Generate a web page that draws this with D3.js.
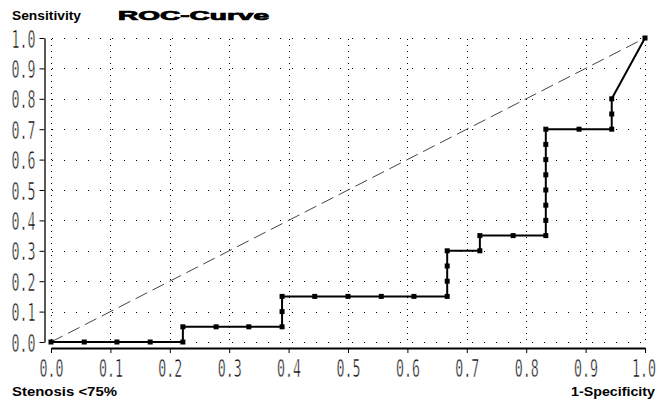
<!DOCTYPE html>
<html>
<head>
<meta charset="utf-8">
<script src="https://cdn.jsdelivr.net/npm/d3@7"></script>
<style>
  html, body { margin: 0; padding: 0; background: #fff; }
  svg { display: block; }
</style>
</head>
<body>
<svg id="chart" width="657" height="402"></svg>
<script>
// ROC points (1-specificity, sensitivity)
const fpr = [0, 0.056, 0.111, 0.167, 0.222, 0.222, 0.278, 0.333, 0.389, 0.389,
             0.389, 0.444, 0.5, 0.556, 0.611, 0.667, 0.667, 0.667, 0.667, 0.722,
             0.722, 0.778, 0.833, 0.833, 0.833, 0.833, 0.833, 0.833, 0.833, 0.833,
             0.889, 0.944, 0.944, 0.944, 1.0];
const tpr = [0, 0, 0, 0, 0, 0.05, 0.05, 0.05, 0.05, 0.1,
             0.15, 0.15, 0.15, 0.15, 0.15, 0.15, 0.2, 0.25, 0.3, 0.3,
             0.35, 0.35, 0.35, 0.4, 0.45, 0.5, 0.55, 0.6, 0.65, 0.7,
             0.7, 0.7, 0.75, 0.8, 1.0];
const ticks = [0, 0.1, 0.2, 0.3, 0.4, 0.5, 0.6, 0.7, 0.8, 0.9, 1.0];

const svg = d3.select("#chart");
const x = d3.scaleLinear().domain([0, 1]).range([51, 645]);
const y = d3.scaleLinear().domain([0, 1]).range([342, 38]);

// dotted grid
const grid = svg.append("g").attr("shape-rendering", "crispEdges");
grid.selectAll("line.h").data(ticks).join("line")
  .attr("class", "h")
  .attr("x1", x(0) + 0.5).attr("x2", x(1) + 0.5)
  .attr("y1", d => Math.round(y(d)) + 0.5).attr("y2", d => Math.round(y(d)) + 0.5)
  .attr("stroke", "#000").attr("stroke-dasharray", "1,11");
grid.selectAll("line.v").data(ticks).join("line")
  .attr("class", "v")
  .attr("x1", d => Math.round(x(d)) + 0.5).attr("x2", d => Math.round(x(d)) + 0.5)
  .attr("y1", y(1) + 0.5).attr("y2", y(0) + 0.5)
  .attr("stroke", "#000").attr("stroke-dasharray", "1,5");

// axes, offset from the plot area
const fmt = d3.format(".1f");
const xAxis = svg.append("g")
  .attr("transform", "translate(0,348)")
  .call(d3.axisBottom(x).tickValues(ticks).tickFormat(fmt).tickSize(5).tickSizeOuter(0));
const yAxis = svg.append("g")
  .attr("transform", "translate(44.5,0)")
  .call(d3.axisLeft(y).tickValues(ticks).tickFormat(fmt).tickSize(5).tickSizeOuter(0));

xAxis.select(".domain").attr("stroke", "#000").attr("stroke-width", 2);
yAxis.select(".domain").attr("stroke", "#000").attr("stroke-width", 1.3);
[xAxis, yAxis].forEach(a => {
  a.selectAll(".tick line").attr("stroke", "#000").attr("stroke-width", 1);
  // narrow, thin digits: squeeze a mono font and erode it with a white outline
  a.selectAll("text")
    .attr("font-family", "DejaVu Sans Mono, monospace")
    .attr("font-size", 25)
    .attr("fill", "#000")
    .attr("stroke", "#fff")
    .attr("stroke-width", 0.7)
    .attr("paint-order", "fill")
    .attr("textLength", 24)
    .attr("lengthAdjust", "spacingAndGlyphs");
});
xAxis.selectAll("text").attr("y", 11).attr("dy", "0.71em")
  .attr("x", d => d === 1 ? -1.5 : 0);   // keep last label inside the frame
yAxis.selectAll("text").attr("x", -9).attr("dy", "0.36em");

// chance diagonal
svg.append("line")
  .attr("x1", x(0)).attr("y1", y(0)).attr("x2", x(1)).attr("y2", y(1))
  .attr("stroke", "#444").attr("stroke-width", 1).attr("stroke-dasharray", "13,6");

// ROC curve
const pts = fpr.map((f, i) => [f, tpr[i]]);
svg.append("path")
  .datum(pts)
  .attr("fill", "none").attr("stroke", "#000").attr("stroke-width", 2)
  .attr("d", d3.line().x(d => x(d[0])).y(d => y(d[1])));
svg.selectAll("rect.pt").data(pts).join("rect")
  .attr("class", "pt")
  .attr("x", d => x(d[0]) - 2.5).attr("y", d => y(d[1]) - 2.5)
  .attr("width", 5).attr("height", 5).attr("fill", "#000");

// labels
const lab = (t, px, py, w, opts = {}) => svg.append("text")
  .attr("x", px).attr("y", py)
  .attr("font-family", "Liberation Sans, Arial, sans-serif")
  .attr("font-weight", "bold")
  .attr("font-size", opts.size || 13)
  .attr("text-anchor", opts.anchor || "start")
  .attr("fill", "#000")
  .attr("textLength", w)
  .attr("lengthAdjust", "spacingAndGlyphs")
  .text(t);

lab("Sensitivity", 12, 20, 69);
lab("ROC-Curve", 118, 20, 151, { size: 12 })
  .attr("stroke", "#000").attr("stroke-width", 0.7);
lab("Stenosis <75%", 12, 396, 105);
lab("1-Specificity", 655, 396, 84, { anchor: "end" });
</script>
</body>
</html>
